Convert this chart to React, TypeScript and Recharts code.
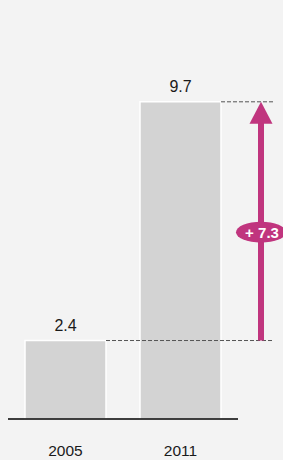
import { BarChart, Bar, XAxis, YAxis, LabelList } from "recharts";

const years = ["2005", "2011"];
const totals = [2.4, 9.7];

const data = years.map((year, i) => ({ year, total: totals[i] }));

const MAGENTA = "#c0357e";
const LINE_END_X = 273;

function Annotation(props: any) {
  const vb = props.viewBox || props;
  const { x, y, width, height } = vb;
  const index = props.index;
  const right = x + width;
  const dashed = (
    <line
      x1={right}
      x2={LINE_END_X}
      y1={y}
      y2={y}
      stroke="#555"
      strokeWidth={1}
      strokeDasharray="4 2"
    />
  );
  if (index !== totals.length - 1) return <g>{dashed}</g>;

  // arrow from the previous value up to this one
  const bottom = y + height;
  const unit = height / totals[index];
  const fromY = bottom - totals[index - 1] * unit;
  const ax = right + 40;
  const headH = 22;
  const shaftTop = y + headH;
  const midY = (shaftTop + fromY) / 2;
  const diff = totals[index] - totals[index - 1];
  return (
    <g>
      {dashed}
      <rect x={ax - 3} y={shaftTop - 1} width={6} height={fromY - shaftTop + 1} fill={MAGENTA} />
      <polygon
        points={`${ax},${y} ${ax - 11.5},${shaftTop} ${ax + 11.5},${shaftTop}`}
        fill={MAGENTA}
      />
      <ellipse cx={ax} cy={midY} rx={25} ry={10.5} fill={MAGENTA} />
      <text
        x={ax + 1}
        y={midY + 5.5}
        textAnchor="middle"
        fill="#fff"
        fontWeight="bold"
        fontSize={15}
      >
        {"+ " + diff.toFixed(1)}
      </text>
    </g>
  );
}

export default function App() {
  return (
    <div
      style={{
        position: "absolute",
        left: 0,
        top: 0,
        width: 283,
        height: 460,
        background: "#f3f3f3",
        fontFamily: "'Liberation Sans', Arial, sans-serif",
      }}
    >
      <BarChart
        width={283}
        height={460}
        data={data}
        margin={{ top: 92, right: 45, left: 8, bottom: 11 }}
      >
        <XAxis
          dataKey="year"
          axisLine={{ stroke: "#000", strokeWidth: 1.5 }}
          tickLine={false}
          tickMargin={20}
          height={30}
          tick={{ fill: "#1a1a1a", fontSize: 15.5 }}
        />
        <YAxis hide domain={[0, 10]} />
        <Bar
          dataKey="total"
          fill="#d3d3d3"
          stroke="#ffffff"
          strokeWidth={1.5}
          barSize={81}
          isAnimationActive={false}
        >
          <LabelList dataKey="total" position="top" offset={10} fill="#1a1a1a" fontSize={16} />
          <LabelList dataKey="total" content={<Annotation />} />
        </Bar>
      </BarChart>
    </div>
  );
}
